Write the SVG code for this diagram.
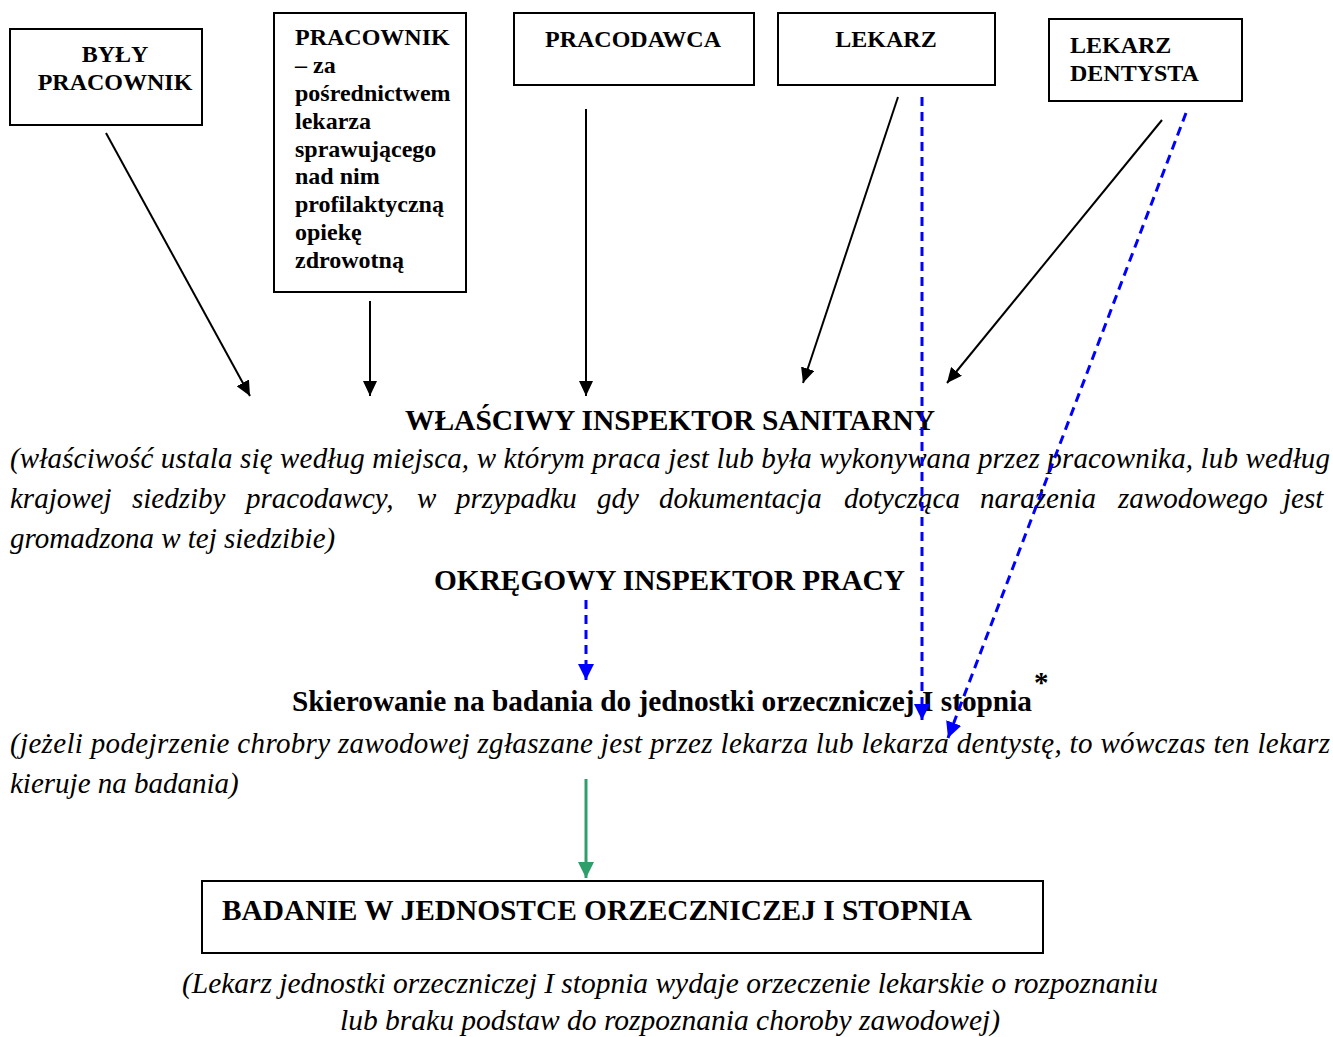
<svg xmlns="http://www.w3.org/2000/svg" width="1333" height="1037" viewBox="0 0 1333 1037">
<style>
.box{fill:#fff;stroke:#000;stroke-width:2}
.bt{font-family:"Liberation Serif","Times New Roman",serif;font-weight:bold;font-size:24px;fill:#000}
.h{font-family:"Liberation Serif","Times New Roman",serif;font-weight:bold;font-size:29px;fill:#000}
.it{font-family:"Liberation Serif","Times New Roman",serif;font-style:italic;font-size:29px;fill:#000}
.blk{stroke:#000;stroke-width:2;fill:none;marker-end:url(#ab)}
.blu{stroke:#0000ff;stroke-width:3;fill:none;stroke-dasharray:9 6;marker-end:url(#au)}
.grn{stroke:#2e9e6b;stroke-width:3;fill:none;marker-end:url(#ag)}
</style>
<defs>
<marker id="ab" markerUnits="userSpaceOnUse" markerWidth="15" markerHeight="14" viewBox="0 0 15 14" refX="15" refY="7" orient="auto"><path d="M0,0 L15,7 L0,14 z" fill="#000"/></marker>
<marker id="au" markerUnits="userSpaceOnUse" markerWidth="16" markerHeight="16" viewBox="0 0 16 16" refX="16" refY="8" orient="auto"><path d="M0,0 L16,8 L0,16 z" fill="#0000ff"/></marker>
<marker id="ag" markerUnits="userSpaceOnUse" markerWidth="16" markerHeight="16" viewBox="0 0 16 16" refX="16" refY="8" orient="auto"><path d="M0,0 L16,8 L0,16 z" fill="#2e9e6b"/></marker>
</defs>
<rect width="1333" height="1037" fill="#fff"/>

<g id="node-byly">
<rect class="box" x="10" y="29" width="192" height="96"/>
<text class="bt" x="115" y="62" text-anchor="middle">BYŁY</text>
<text class="bt" x="115" y="90" text-anchor="middle">PRACOWNIK</text>
</g>
<g id="node-pracownik">
<rect class="box" x="274" y="13" width="192" height="279"/>
<text class="bt" x="295">
<tspan x="295" y="45">PRACOWNIK</tspan>
<tspan x="295" y="73">– za</tspan>
<tspan x="295" y="101">pośrednictwem</tspan>
<tspan x="295" y="129">lekarza</tspan>
<tspan x="295" y="157">sprawującego</tspan>
<tspan x="295" y="184">nad nim</tspan>
<tspan x="295" y="212">profilaktyczną</tspan>
<tspan x="295" y="240">opiekę</tspan>
<tspan x="295" y="268">zdrowotną</tspan>
</text>
</g>
<g id="node-pracodawca">
<rect class="box" x="514" y="13" width="240" height="72"/>
<text class="bt" x="633" y="47" text-anchor="middle">PRACODAWCA</text>
</g>
<g id="node-lekarz">
<rect class="box" x="778" y="13" width="217" height="72"/>
<text class="bt" x="886" y="47" text-anchor="middle">LEKARZ</text>
</g>
<g id="node-dentysta">
<rect class="box" x="1049" y="19" width="193" height="82"/>
<text class="bt" x="1070" y="53">LEKARZ</text>
<text class="bt" x="1070" y="81">DENTYSTA</text>
</g>

<g id="node-wis">
<text class="h" x="405" y="430" textLength="530" lengthAdjust="spacingAndGlyphs">WŁAŚCIWY INSPEKTOR SANITARNY</text>
<text class="it" x="10" y="468" textLength="1320" lengthAdjust="spacing">(właściwość ustala się według miejsca, w którym praca jest lub była wykonywana przez pracownika, lub według</text>
<text class="it" y="508"><tspan x="10">krajowej</tspan><tspan x="132">siedziby</tspan><tspan x="246">pracodawcy,</tspan><tspan x="417">w</tspan><tspan x="456">przypadku</tspan><tspan x="597">gdy</tspan><tspan x="659">dokumentacja</tspan><tspan x="844">dotycząca</tspan><tspan x="980">narażenia</tspan><tspan x="1118">zawodowego</tspan><tspan x="1283">jest</tspan></text>
<text class="it" x="10" y="548">gromadzona w tej siedzibie)</text>
</g>
<g id="node-oip">
<text class="h" x="434" y="590" textLength="471" lengthAdjust="spacingAndGlyphs">OKRĘGOWY INSPEKTOR PRACY</text>
</g>
<g id="node-skierowanie">
<text class="h" x="292" y="711" font-size="28" textLength="740" lengthAdjust="spacingAndGlyphs">Skierowanie na badania do jednostki orzeczniczej I stopnia</text>
<text class="h" x="1034" y="692" font-size="24">*</text>
<text class="it" x="10" y="753" textLength="1320" lengthAdjust="spacing">(jeżeli podejrzenie chrobry zawodowej zgłaszane jest przez lekarza lub lekarza dentystę, to wówczas ten lekarz</text>
<text class="it" x="10" y="793">kieruje na badania)</text>
</g>
<g id="node-badanie">
<rect class="box" x="202" y="881" width="841" height="72"/>
<text class="h" x="222" y="920" textLength="750" lengthAdjust="spacingAndGlyphs">BADANIE W JEDNOSTCE ORZECZNICZEJ I STOPNIA</text>
<text class="it" x="670" y="993" text-anchor="middle" textLength="976" lengthAdjust="spacingAndGlyphs">(Lekarz jednostki orzeczniczej I stopnia wydaje orzeczenie lekarskie o rozpoznaniu</text>
<text class="it" x="670" y="1030" text-anchor="middle" textLength="660" lengthAdjust="spacingAndGlyphs">lub braku podstaw do rozpoznania choroby zawodowej)</text>
</g>

<g id="connectors">
<line class="blk" x1="106" y1="133" x2="250" y2="396"/>
<line class="blk" x1="370" y1="301" x2="370" y2="396"/>
<line class="blk" x1="586" y1="109" x2="586" y2="396"/>
<line class="blk" x1="898" y1="97" x2="803" y2="383"/>
<line class="blk" x1="1162" y1="120" x2="947" y2="383"/>
<line class="blu" x1="922" y1="97" x2="922" y2="720"/>
<line class="blu" x1="1186" y1="113" x2="948" y2="738"/>
<line class="blu" x1="586" y1="600" x2="586" y2="680"/>
<line class="grn" x1="586" y1="779" x2="586" y2="878"/>
</g>
</svg>
